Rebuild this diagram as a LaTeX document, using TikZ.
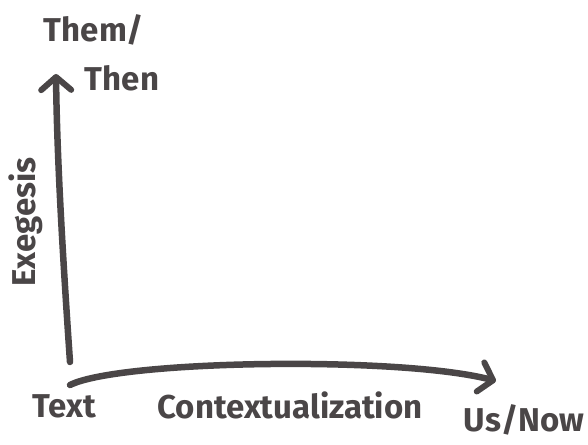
\documentclass[tikz,border=0pt]{standalone}
\usepackage{fontspec}
\setmainfont{Fira Sans}
\usepackage{tikz}
\usetikzlibrary{arrows.meta}
\definecolor{ink}{RGB}{74,70,71}

\begin{document}
\begin{tikzpicture}[x=1pt,y=-1pt,
  axis/.style={ink,line width=6.5pt,line cap=round,
    -{Straight Barb[length=13pt,width=30pt,line width=6pt,round]}},
  lbl/.style={ink,inner sep=0pt,font=\fontsize{33}{35}\selectfont\bfseries}]
\useasboundingbox (0,0) rectangle (588,444);

\coordinate (org) at (70,362);
\coordinate (top) at (56,74);
\coordinate (start) at (70,385);
\coordinate (end) at (496,381);

% past (up) and present (right)
\draw [axis] (org) .. controls (63,260) and (57,160) .. (top);
\draw [axis] (start) .. controls (120,360) and (400,356) .. (end);

\node [lbl] (them) at (94,30) {Them/};
\node [lbl] (then) at (122,78) {Then};
\node [lbl,rotate=90] (exeg) at (26,222) {Exegesis};
\node [lbl] (text) at (64,406) {Text};
\node [lbl] (ctx) at (290,405) {Contextualization};
\node [lbl] (now) at (524,420) {Us/Now};
\end{tikzpicture}
\end{document}
